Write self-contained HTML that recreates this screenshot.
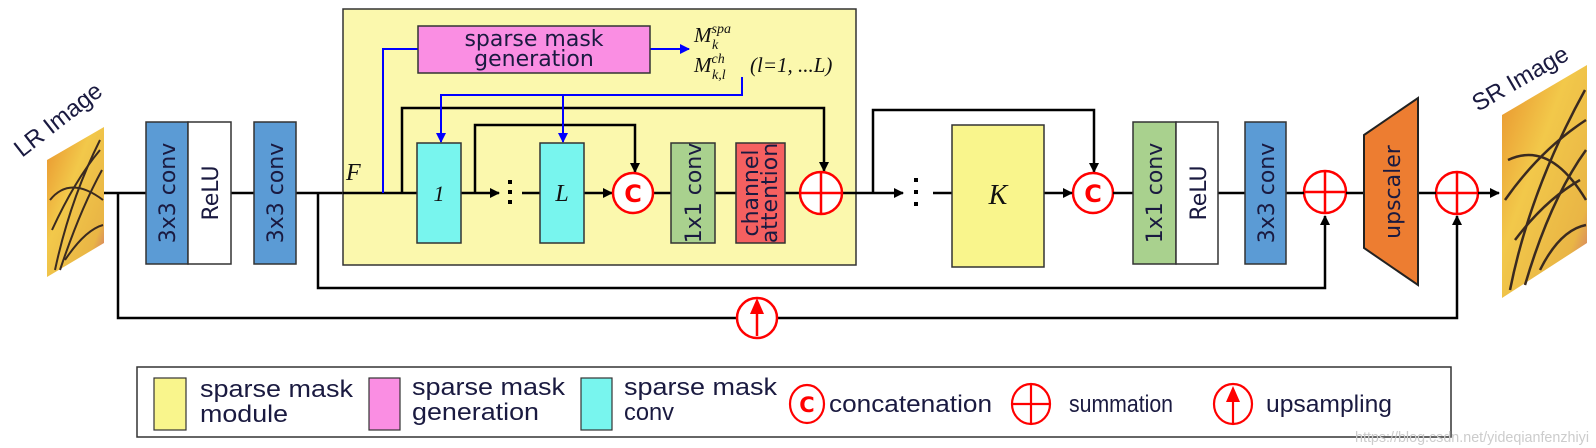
<!DOCTYPE html>
<html><head><meta charset="utf-8"><style>
html,body{margin:0;padding:0;background:#fff;}
svg{display:block;}
.b{font-family:"DejaVu Sans",sans-serif;font-size:22px;fill:#1a1a40;}
.l{font-family:"Liberation Sans",sans-serif;font-size:24px;fill:#1a1a40;}
.m{font-family:"Liberation Serif",serif;font-style:italic;fill:#111;}
</style></head><body>
<svg width="1596" height="448" viewBox="0 0 1596 448" xmlns="http://www.w3.org/2000/svg">
<defs>
<marker id="ak" markerWidth="10" markerHeight="10" refX="9" refY="5" orient="auto" markerUnits="userSpaceOnUse"><path d="M0,0 L10,5 L0,10z" fill="#000"/></marker>
<marker id="ab" markerWidth="10" markerHeight="10" refX="9" refY="5" orient="auto" markerUnits="userSpaceOnUse"><path d="M0,0 L10,5 L0,10z" fill="#0000ff"/></marker>
<linearGradient id="bf" x1="0" y1="0" x2="1" y2="1"><stop offset="0" stop-color="#e8902c"/><stop offset="0.4" stop-color="#f2c84a"/><stop offset="0.8" stop-color="#e9b545"/><stop offset="1" stop-color="#c8607a"/></linearGradient>
</defs>

<!-- LR image -->
<text class="l" transform="translate(22,158) rotate(-38)" font-size="28">LR Image</text>
<polygon points="47,160 104,127 104,243 47,277" fill="url(#bf)"/>
<g stroke="#3a2a20" stroke-width="2" fill="none">
<path d="M55,270 Q70,200 100,140"/><path d="M60,270 Q80,210 102,170"/><path d="M52,230 Q75,180 100,150"/><path d="M50,200 Q70,175 103,200"/><path d="M65,260 Q85,230 103,225"/>
</g>

<!-- main line -->
<g stroke="#000" stroke-width="2.5" fill="none">
<line x1="104" y1="193" x2="343" y2="193"/>
<polyline points="118,193 118,318 1457,318 1457,216" marker-end="url(#ak)"/>
<polyline points="318,193 318,288 1325,288 1325,216" marker-end="url(#ak)"/>
</g>

<!-- first blocks -->
<rect x="146" y="122" width="42" height="142" fill="#5b9bd5" stroke="#333" stroke-width="1.5"/>
<rect x="188" y="122" width="43" height="142" fill="#fff" stroke="#333" stroke-width="1.5"/>
<rect x="254" y="122" width="42" height="142" fill="#5b9bd5" stroke="#333" stroke-width="1.5"/>
<text class="b" transform="translate(175,193) rotate(-90)" text-anchor="middle" font-size="24">3x3 conv</text>
<text class="b" transform="translate(218,193) rotate(-90)" text-anchor="middle" font-size="24">ReLU</text>
<text class="b" transform="translate(283,193) rotate(-90)" text-anchor="middle" font-size="24">3x3 conv</text>

<!-- module -->
<rect x="343" y="9" width="513" height="256" fill="#fbf8ad" stroke="#333" stroke-width="1.5"/>
<g stroke="#000" stroke-width="2.5" fill="none">
<line x1="343" y1="193" x2="417" y2="193"/>
<polyline points="402,193 402,108 824,108 824,171" marker-end="url(#ak)"/>
<polyline points="475,193 475,125 635,125 635,172" marker-end="url(#ak)"/>
<line x1="461" y1="193" x2="499" y2="193" marker-end="url(#ak)"/>
<line x1="522" y1="193" x2="540" y2="193"/>
<line x1="584" y1="193" x2="612" y2="193" marker-end="url(#ak)"/>
<line x1="653" y1="193" x2="671" y2="193"/>
<line x1="715" y1="193" x2="736" y2="193"/>
<line x1="785" y1="193" x2="800" y2="193"/>
<line x1="842" y1="193" x2="903" y2="193" marker-end="url(#ak)"/>
<polyline points="873,193 873,110 1094,110 1094,172" marker-end="url(#ak)"/>
</g>
<g fill="#000"><rect x="508" y="180" width="4" height="4"/><rect x="508" y="190" width="4" height="4"/><rect x="508" y="200" width="4" height="4"/></g>
<text class="m" x="346" y="180" font-size="24">F</text>
<!-- blue -->
<g stroke="#0000ff" stroke-width="2" fill="none">
<polyline points="383,193 383,49 418,49"/>
<line x1="650" y1="49" x2="689" y2="49" marker-end="url(#ab)"/>
<polyline points="742,77 742,95 441,95 441,142" marker-end="url(#ab)"/>
<line x1="563" y1="95" x2="563" y2="142" marker-end="url(#ab)"/>
</g>
<rect x="418" y="26" width="232" height="47" fill="#fa8ee3" stroke="#333" stroke-width="1.5"/>
<text class="b" x="534" y="46" text-anchor="middle" font-size="19">sparse mask</text>
<text class="b" x="534" y="66" text-anchor="middle" font-size="19">generation</text>
<text class="m" x="694" y="42" font-size="21">M<tspan dy="-9" font-size="14">spa</tspan><tspan x="712" dy="16" font-size="14">k</tspan></text>
<text class="m" x="694" y="72" font-size="21">M<tspan dy="-9" font-size="14">ch</tspan><tspan x="712" dy="16" font-size="14">k,l</tspan></text>
<text class="m" x="750" y="72" font-size="21">(l=1, ...L)</text>

<rect x="417" y="143" width="44" height="100" fill="#78f5ee" stroke="#333" stroke-width="1.5"/>
<text class="m" x="439" y="201" text-anchor="middle" font-size="22" font-style="normal">1</text>
<rect x="540" y="143" width="44" height="100" fill="#78f5ee" stroke="#333" stroke-width="1.5"/>
<text class="m" x="562" y="201" text-anchor="middle" font-size="24">L</text>
<rect x="671" y="143" width="44" height="100" fill="#a9d18e" stroke="#333" stroke-width="1.5"/>
<text class="b" transform="translate(701,193) rotate(-90)" text-anchor="middle" font-size="20">1x1 conv</text>
<rect x="736" y="143" width="49" height="100" fill="#f56060" stroke="#333" stroke-width="1.5"/>
<text class="b" transform="translate(758,193) rotate(-90)" text-anchor="middle" font-size="18">channel</text>
<text class="b" transform="translate(777,193) rotate(-90)" text-anchor="middle" font-size="18">attention</text>

<!-- circles -->
<g stroke="#f00" stroke-width="2.5" fill="#fff">
<circle cx="633" cy="193" r="20"/>
<circle cx="821" cy="193" r="21"/>
<circle cx="1093" cy="193" r="20"/>
<circle cx="1325" cy="192" r="21"/>
<circle cx="1457" cy="193" r="21"/>
<circle cx="757" cy="318" r="20"/>
</g>
<g stroke="#f00" stroke-width="2.5">
<line x1="800" y1="193" x2="842" y2="193"/><line x1="821" y1="172" x2="821" y2="214"/>
<line x1="1304" y1="192" x2="1346" y2="192"/><line x1="1325" y1="171" x2="1325" y2="213"/>
<line x1="1436" y1="193" x2="1478" y2="193"/><line x1="1457" y1="172" x2="1457" y2="214"/>
<line x1="757" y1="336" x2="757" y2="312"/>
</g>
<path d="M757,298 L764,314 L750,314z" fill="#f00"/>
<g font-family="DejaVu Sans,sans-serif" font-weight="bold" fill="#f00" font-size="24" text-anchor="middle">
<text x="633" y="202">C</text><text x="1093" y="202">C</text></g>

<!-- K section -->
<g fill="#000"><rect x="914" y="178" width="4" height="4"/><rect x="914" y="190" width="4" height="4"/><rect x="914" y="202" width="4" height="4"/></g>
<g stroke="#000" stroke-width="2.5" fill="none">
<line x1="933" y1="193" x2="952" y2="193"/>
<line x1="1044" y1="193" x2="1072" y2="193" marker-end="url(#ak)"/>
<line x1="1113" y1="193" x2="1133" y2="193"/>
<line x1="1218" y1="193" x2="1245" y2="193"/>
<line x1="1286" y1="193" x2="1304" y2="193"/>
<line x1="1346" y1="193" x2="1364" y2="193"/>
<line x1="1418" y1="193" x2="1436" y2="193"/>
<line x1="1478" y1="193" x2="1499" y2="193" marker-end="url(#ak)"/>
</g>
<rect x="952" y="125" width="92" height="142" fill="#f9f58c" stroke="#333" stroke-width="1.5"/>
<text class="m" x="998" y="204" text-anchor="middle" font-size="28">K</text>
<rect x="1133" y="122" width="43" height="142" fill="#a9d18e" stroke="#333" stroke-width="1.5"/>
<rect x="1176" y="122" width="42" height="142" fill="#fff" stroke="#333" stroke-width="1.5"/>
<rect x="1245" y="122" width="41" height="142" fill="#5b9bd5" stroke="#333" stroke-width="1.5"/>
<text class="b" transform="translate(1162,193) rotate(-90)" text-anchor="middle" font-size="24">1x1 conv</text>
<text class="b" transform="translate(1206,193) rotate(-90)" text-anchor="middle" font-size="24">ReLU</text>
<text class="b" transform="translate(1274,193) rotate(-90)" text-anchor="middle" font-size="24">3x3 conv</text>
<polygon points="1364,135 1418,98 1418,285 1364,248" fill="#ed7d31" stroke="#222" stroke-width="2"/>
<text class="b" transform="translate(1400,192) rotate(-90)" text-anchor="middle" font-size="24">upscaler</text>

<!-- SR image -->
<text class="l" transform="translate(1478,112) rotate(-30)" font-size="27">SR Image</text>
<polygon points="1502,115 1587,65 1587,243 1502,298" fill="url(#bf)"/>
<g stroke="#3a2a20" stroke-width="2.5" fill="none">
<path d="M1510,290 Q1530,190 1585,90"/><path d="M1525,285 Q1550,200 1586,150"/><path d="M1505,200 Q1540,150 1586,120"/><path d="M1508,160 Q1550,140 1586,200"/><path d="M1540,270 Q1560,230 1586,225"/><path d="M1515,240 Q1545,200 1580,180"/>
</g>

<!-- legend -->
<rect x="137" y="367" width="1314" height="70" fill="#fff" stroke="#333" stroke-width="1.5"/>
<rect x="154" y="378" width="32" height="52" fill="#f9f58c" stroke="#333" stroke-width="1.2"/>
<rect x="369" y="378" width="31" height="52" fill="#fa8ee3" stroke="#333" stroke-width="1.2"/>
<rect x="581" y="378" width="31" height="52" fill="#78f5ee" stroke="#333" stroke-width="1.2"/>
<text class="l" x="200" y="397" textLength="153" lengthAdjust="spacingAndGlyphs">sparse mask</text><text class="l" x="200" y="422" textLength="88" lengthAdjust="spacingAndGlyphs">module</text>
<text class="l" x="412" y="395" textLength="153" lengthAdjust="spacingAndGlyphs">sparse mask</text><text class="l" x="412" y="420" textLength="127" lengthAdjust="spacingAndGlyphs">generation</text>
<text class="l" x="624" y="395" textLength="153" lengthAdjust="spacingAndGlyphs">sparse mask</text><text class="l" x="624" y="420" textLength="50" lengthAdjust="spacingAndGlyphs">conv</text>
<ellipse cx="807" cy="404" rx="17" ry="19" fill="#fff" stroke="#f00" stroke-width="2.2"/>
<text x="807" y="412" text-anchor="middle" font-family="DejaVu Sans,sans-serif" font-weight="bold" font-size="21" fill="#f00">C</text>
<text class="l" x="829" y="412" textLength="163" lengthAdjust="spacingAndGlyphs">concatenation</text>
<ellipse cx="1031" cy="404" rx="19" ry="20" fill="#fff" stroke="#f00" stroke-width="2.2"/>
<line x1="1012" y1="404" x2="1050" y2="404" stroke="#f00" stroke-width="2.2"/><line x1="1031" y1="384" x2="1031" y2="424" stroke="#f00" stroke-width="2.2"/>
<text class="l" x="1069" y="412" textLength="104" lengthAdjust="spacingAndGlyphs">summation</text>
<ellipse cx="1233" cy="404" rx="19" ry="20" fill="#fff" stroke="#f00" stroke-width="2.2"/>
<line x1="1233" y1="424" x2="1233" y2="400" stroke="#f00" stroke-width="2.2"/><path d="M1233,386 L1240,402 L1226,402z" fill="#f00"/>
<text class="l" x="1266" y="412" textLength="126" lengthAdjust="spacingAndGlyphs">upsampling</text>
<text x="1355" y="442" font-family="Liberation Sans,sans-serif" font-size="15" fill="#ccc" textLength="234" lengthAdjust="spacingAndGlyphs">https://blog.csdn.net/yideqianfenzhiyi</text>
</svg>
</body></html>
